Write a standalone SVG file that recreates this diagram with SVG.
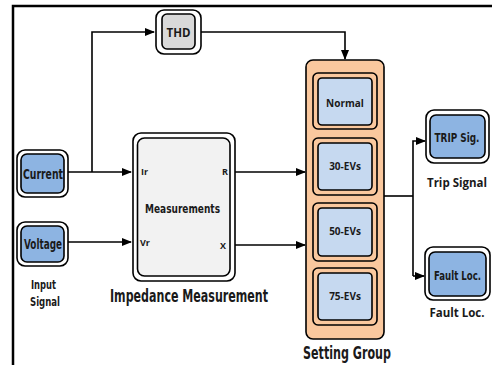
<svg xmlns="http://www.w3.org/2000/svg" width="492" height="365" viewBox="0 0 492 365">
<style>
.o{fill:#fff;stroke:#000;stroke-width:1.6}
.i{stroke:#000;stroke-width:1.6}
.blue{fill:#8db4e2}
.lb{fill:#c6d9f0}
.gray{fill:#d9d9d9}
.lg{fill:#f2f2f2}
.c{font-family:"DejaVu Sans Condensed","DejaVu Sans",sans-serif;font-weight:bold;fill:#1a1a1a}
.s{font-family:"Open Sans","Liberation Sans",sans-serif;font-weight:bold;fill:#1a1a1a}
.w{fill:none;stroke:#000;stroke-width:1.6}
</style>
<defs>
<marker id="a" markerWidth="10" markerHeight="8" refX="9" refY="4" orient="auto" markerUnits="userSpaceOnUse">
<path d="M0,0 L10,4 L0,8 z" fill="#000"/>
</marker>
</defs>
<g id="frame"><path d="M13,365 V6 H492" fill="none" stroke="#000" stroke-width="2.5"/></g>
<g id="connectors">
<path class="w" d="M68,172 H131" marker-end="url(#a)"/>
<path class="w" d="M92,172 V32 H154" marker-end="url(#a)"/>
<path class="w" d="M201,32 H345 V59" marker-end="url(#a)"/>
<path class="w" d="M68,242 H131" marker-end="url(#a)"/>
<path class="w" d="M235,172 H305" marker-end="url(#a)"/>
<path class="w" d="M235,245 H305" marker-end="url(#a)"/>
<path class="w" d="M384,196 H413"/>
<path class="w" d="M413,276 V141 H425" marker-end="url(#a)"/>
<path class="w" d="M413,276 H424" marker-end="url(#a)"/>
</g>
<g id="thd">
<rect class="o" x="156" y="10" width="45" height="44" rx="8"/>
<rect class="i gray" x="162" y="14" width="33" height="35" rx="5"/>
<text class="s" x="178.5" y="36.5" font-size="11.5" text-anchor="middle">THD</text>
</g>
<g id="current">
<rect class="o" x="17" y="150" width="51" height="47" rx="8"/>
<rect class="i blue" x="21" y="154" width="43" height="39" rx="6"/>
<text class="c" x="23" y="178.5" font-size="14" textLength="40" lengthAdjust="spacingAndGlyphs">Current</text>
</g>
<g id="voltage">
<rect class="o" x="17" y="222" width="51" height="44" rx="8"/>
<rect class="i blue" x="21" y="226" width="43" height="36" rx="6"/>
<text class="c" x="24" y="249" font-size="14" textLength="38" lengthAdjust="spacingAndGlyphs">Voltage</text>
</g>
<g id="input-label">
<text class="c" x="31" y="289" font-size="13" textLength="25" lengthAdjust="spacingAndGlyphs">Input</text>
<text class="c" x="30" y="306" font-size="13" textLength="30" lengthAdjust="spacingAndGlyphs">Signal</text>
</g>
<g id="measurements">
<rect class="o" x="133" y="133" width="102" height="148" rx="8"/>
<rect class="i lg" x="137.5" y="138" width="92.5" height="138" rx="7"/>
<text class="s" x="141" y="175" font-size="9">Ir</text>
<text class="s" x="225" y="175" font-size="9" text-anchor="middle">R</text>
<text class="c" x="145" y="213" font-size="13" textLength="75" lengthAdjust="spacingAndGlyphs">Measurements</text>
<text class="s" x="140" y="246" font-size="9">Vr</text>
<text class="s" x="223" y="249" font-size="9" text-anchor="middle">X</text>
<text class="c" x="110" y="302" font-size="17" textLength="158" lengthAdjust="spacingAndGlyphs">Impedance Measurement</text>
</g>
<g id="setting-group">
<rect x="306" y="60" width="78" height="279" rx="7" fill="#fac89e" stroke="#000" stroke-width="1.6"/>
<rect class="i" fill="#fac89e" x="313" y="73" width="64" height="56" rx="5"/>
<rect class="i lb" x="318" y="78" width="54" height="47" rx="4"/>
<text class="s" x="345" y="107" font-size="10" text-anchor="middle">Normal</text>
<rect class="i" fill="#fac89e" x="313" y="138" width="64" height="57" rx="5"/>
<rect class="i lb" x="318" y="143" width="54" height="47" rx="4"/>
<text class="s" x="345" y="170" font-size="10" text-anchor="middle">30-EVs</text>
<rect class="i" fill="#fac89e" x="313" y="203" width="64" height="58" rx="5"/>
<rect class="i lb" x="318" y="208" width="54" height="48" rx="4"/>
<text class="s" x="345" y="235" font-size="10" text-anchor="middle">50-EVs</text>
<rect class="i" fill="#fac89e" x="313" y="268" width="64" height="57" rx="5"/>
<rect class="i lb" x="318" y="273" width="54" height="47" rx="4"/>
<text class="s" x="345" y="300" font-size="10" text-anchor="middle">75-EVs</text>
<text class="c" x="303" y="359" font-size="18" textLength="88" lengthAdjust="spacingAndGlyphs">Setting Group</text>
</g>
<g id="trip">
<rect class="o" x="426" y="110" width="63" height="53" rx="8"/>
<rect class="i blue" x="430" y="115" width="55" height="43" rx="6"/>
<text class="c" x="434.5" y="141.5" font-size="12" textLength="45" lengthAdjust="spacingAndGlyphs">TRIP Sig.</text>
<text class="s" x="457" y="187" font-size="11.5" text-anchor="middle">Trip Signal</text>
</g>
<g id="fault">
<rect class="o" x="425" y="247" width="65" height="53" rx="8"/>
<rect class="i blue" x="429" y="252" width="57" height="44" rx="6"/>
<text class="c" x="434" y="279.5" font-size="12" textLength="47" lengthAdjust="spacingAndGlyphs">Fault Loc.</text>
<text class="s" x="457" y="317" font-size="11.5" text-anchor="middle">Fault Loc.</text>
</g>
</svg>
